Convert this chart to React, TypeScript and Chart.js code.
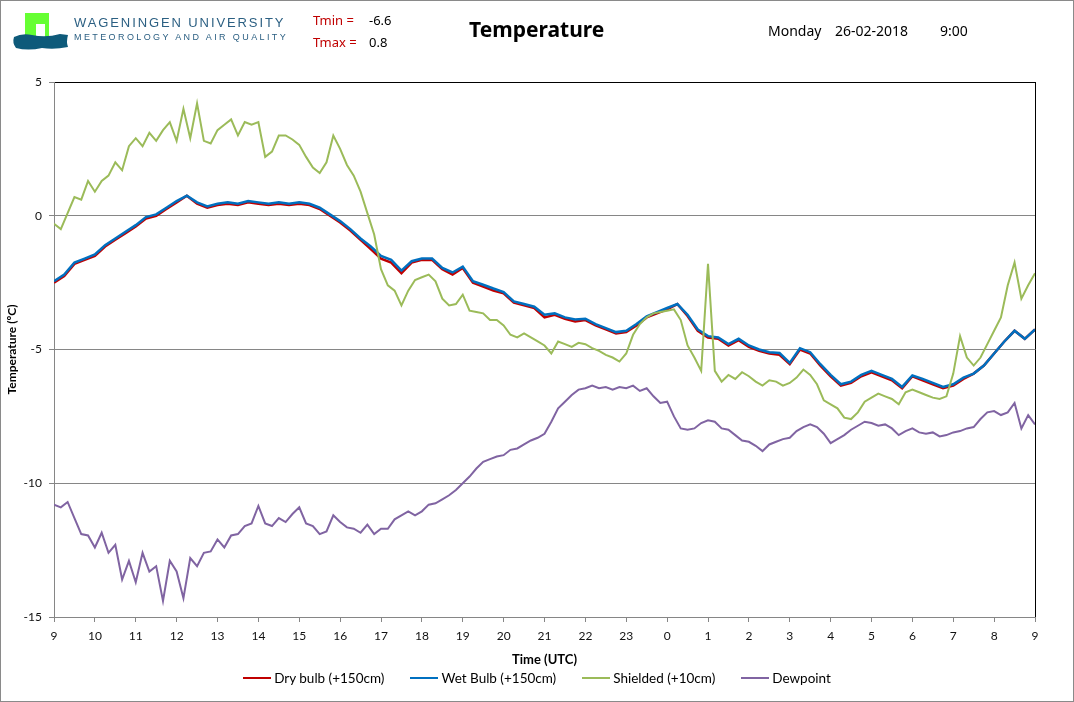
import { useEffect, useRef } from "react";
import { Chart, registerables } from "chart.js";

Chart.register(...registerables);

// sample times, hours after 9:00 UTC
const HOURS_15MIN = Array.from({ length: 97 }, (_, i) => i / 4);
const HOURS_10MIN = Array.from({ length: 145 }, (_, i) => i / 6);
const START_HOUR = 9;

const Y_MIN = -15;
const Y_MAX = 5;
const Y_STEP = 5;

// 15 minute values
const dryBulb = [
  -2.5, -2.25, -1.8, -1.65, -1.5, -1.15, -0.9, -0.65,
  -0.4, -0.1, 0.0, 0.25, 0.5, 0.75, 0.45, 0.3,
  0.4, 0.45, 0.4, 0.5, 0.45, 0.4, 0.45, 0.4,
  0.45, 0.4, 0.25, 0.0, -0.25, -0.55, -0.9, -1.25,
  -1.6, -1.75, -2.15, -1.75, -1.65, -1.65, -2.0, -2.2,
  -1.95, -2.5, -2.65, -2.8, -2.9, -3.25, -3.35, -3.45,
  -3.8, -3.7, -3.85, -3.95, -3.9, -4.1, -4.25, -4.4,
  -4.35, -4.1, -3.8, -3.65, -3.5, -3.3, -3.75, -4.3,
  -4.55, -4.6, -4.85, -4.65, -4.9, -5.05, -5.15, -5.2,
  -5.55, -5.0, -5.15, -5.6, -6.0, -6.35, -6.25, -6.0,
  -5.85, -6.0, -6.15, -6.45, -6.0, -6.15, -6.3, -6.45,
  -6.35, -6.1, -5.9, -5.6, -5.15, -4.7, -4.3, -4.6,
  -4.25,
];

const wetBulb = [
  -2.45, -2.2, -1.75, -1.6, -1.45, -1.1, -0.85, -0.6,
  -0.35, -0.05, 0.05, 0.3, 0.55, 0.75, 0.5, 0.35,
  0.45, 0.5, 0.45, 0.55, 0.5, 0.45, 0.5, 0.45,
  0.5, 0.45, 0.3, 0.05, -0.2, -0.5, -0.85, -1.15,
  -1.5, -1.65, -2.05, -1.7, -1.6, -1.6, -1.95, -2.12,
  -1.9, -2.45, -2.58, -2.72, -2.85, -3.2, -3.3, -3.4,
  -3.7, -3.65, -3.8, -3.88, -3.85, -4.05, -4.2, -4.35,
  -4.3, -4.05, -3.76, -3.6, -3.45, -3.3, -3.7, -4.25,
  -4.5, -4.55, -4.8, -4.6, -4.85, -5.0, -5.1, -5.13,
  -5.5, -4.95, -5.1, -5.55, -5.95, -6.3, -6.2, -5.95,
  -5.8, -5.95, -6.1, -6.4, -5.97, -6.1, -6.25, -6.4,
  -6.3, -6.05, -5.9, -5.6, -5.15, -4.7, -4.3, -4.6,
  -4.25,
];

// 10 minute values
const shielded = [
  -0.3, -0.5, 0.1, 0.7, 0.6, 1.3, 0.9, 1.3, 1.5, 2.0,
  1.7, 2.6, 2.9, 2.6, 3.1, 2.8, 3.2, 3.5, 2.8, 4.0,
  2.9, 4.2, 2.8, 2.7, 3.2, 3.4, 3.6, 3.0, 3.5, 3.4,
  3.5, 2.2, 2.4, 3.0, 3.0, 2.85, 2.65, 2.2, 1.8, 1.6,
  2.0, 3.0, 2.5, 1.9, 1.5, 0.9, 0.1, -0.7, -2.0, -2.6,
  -2.8, -3.35, -2.8, -2.4, -2.3, -2.2, -2.45, -3.1, -3.35, -3.3,
  -2.95, -3.55, -3.6, -3.65, -3.9, -3.9, -4.1, -4.45, -4.55, -4.4,
  -4.55, -4.7, -4.85, -5.15, -4.7, -4.8, -4.9, -4.75, -4.8, -4.95,
  -5.05, -5.2, -5.3, -5.45, -5.15, -4.45, -4.05, -3.8, -3.65, -3.6,
  -3.55, -3.5, -3.9, -4.85, -5.3, -5.8, -1.8, -5.8, -6.2, -5.95,
  -6.1, -5.85, -6.0, -6.2, -6.35, -6.15, -6.2, -6.35, -6.25, -6.05,
  -5.75, -5.95, -6.3, -6.9, -7.05, -7.2, -7.55, -7.6, -7.35, -6.95,
  -6.8, -6.65, -6.75, -6.85, -7.05, -6.6, -6.5, -6.6, -6.7, -6.8,
  -6.85, -6.75, -5.9, -4.5, -5.3, -5.6, -5.3, -4.8, -4.3, -3.8,
  -2.6, -1.75, -3.1, -2.6, -2.15,
];

const dewpoint = [
  -10.8, -10.9, -10.7, -11.3, -11.9, -11.95, -12.4, -11.85, -12.6, -12.3,
  -13.6, -12.9, -13.7, -12.6, -13.3, -13.1, -14.4, -12.9, -13.3, -14.3,
  -12.8, -13.1, -12.6, -12.55, -12.1, -12.4, -11.95, -11.9, -11.6, -11.5,
  -10.85, -11.5, -11.6, -11.3, -11.45, -11.15, -10.9, -11.5, -11.6, -11.9,
  -11.8, -11.2, -11.45, -11.65, -11.7, -11.85, -11.55, -11.9, -11.7, -11.7,
  -11.35, -11.2, -11.05, -11.2, -11.05, -10.8, -10.75, -10.6, -10.45, -10.25,
  -10.0, -9.75, -9.45, -9.2, -9.1, -9.0, -8.95, -8.75, -8.7, -8.55,
  -8.4, -8.3, -8.15, -7.7, -7.2, -6.95, -6.7, -6.5, -6.45, -6.35,
  -6.45, -6.4, -6.5, -6.4, -6.45, -6.35, -6.55, -6.45, -6.75, -7.0,
  -6.95, -7.5, -7.95, -8.0, -7.95, -7.75, -7.65, -7.7, -7.95, -8.0,
  -8.2, -8.4, -8.45, -8.6, -8.8, -8.55, -8.45, -8.35, -8.3, -8.05,
  -7.9, -7.8, -7.9, -8.15, -8.5, -8.35, -8.2, -8.0, -7.85, -7.7,
  -7.75, -7.85, -7.8, -7.95, -8.2, -8.05, -7.95, -8.1, -8.15, -8.1,
  -8.25, -8.2, -8.1, -8.05, -7.95, -7.9, -7.6, -7.35, -7.3, -7.45,
  -7.35, -7.0, -7.95, -7.45, -7.8,
];

const SERIES = [
  { label: "Dry bulb (+150cm)", color: "#C00000", width: 2.5, hours: HOURS_15MIN, values: dryBulb, order: 4 },
  { label: "Wet Bulb (+150cm)", color: "#0070C0", width: 2.5, hours: HOURS_15MIN, values: wetBulb, order: 3 },
  { label: "Shielded (+10cm)", color: "#9BBB59", width: 2, hours: HOURS_10MIN, values: shielded, order: 2 },
  { label: "Dewpoint", color: "#8064A2", width: 2, hours: HOURS_10MIN, values: dewpoint, order: 1 },
];

const tickFont = { family: "Lato, 'Open Sans', sans-serif", size: 12 };
const gridGrey = "#868686";

function TemperatureChart() {
  const canvasRef = useRef<HTMLCanvasElement>(null);

  useEffect(() => {
    if (!canvasRef.current) return;
    const chart = new Chart(canvasRef.current, {
      type: "line",
      data: {
        datasets: SERIES.map((s) => ({
          label: s.label,
          data: s.values.map((v, i) => ({ x: s.hours[i], y: v })),
          borderColor: s.color,
          backgroundColor: s.color,
          borderWidth: s.width,
          pointRadius: 0,
          tension: 0,
          order: s.order,
        })),
      },
      options: {
        animation: false,
        responsive: false,
        events: [],
        layout: { padding: { top: 82, right: 39, bottom: 33, left: 0 } },
        plugins: {
          legend: { display: false },
          tooltip: { enabled: false },
        },
        scales: {
          x: {
            type: "linear",
            min: 0,
            max: 24,
            afterFit: (scale: any) => {
              scale.height = 52;
            },
            ticks: {
              stepSize: 1,
              autoSkip: false,
              maxRotation: 0,
              padding: 7,
              color: "#111",
              font: tickFont,
              callback: (v: any) => String((START_HOUR + Number(v)) % 24),
            },
            grid: {
              color: (ctx: any) => (ctx.tick && ctx.tick.value === 24 ? "#000" : "rgba(0,0,0,0)"),
              tickColor: gridGrey,
              tickLength: 5,
            },
            border: { color: gridGrey },
            title: {
              display: true,
              text: "Time (UTC)",
              color: "#000",
              font: { family: "Lato, sans-serif", size: 13, weight: "bold" },
              padding: { top: 0, bottom: 1 },
            },
          },
          y: {
            min: Y_MIN,
            max: Y_MAX,
            afterFit: (scale: any) => {
              scale.width = 54;
            },
            ticks: {
              stepSize: Y_STEP,
              padding: 7,
              color: "#111",
              font: tickFont,
            },
            grid: {
              color: (ctx: any) => (ctx.tick && ctx.tick.value === Y_MAX ? "#000" : gridGrey),
              tickColor: gridGrey,
              tickLength: 5,
            },
            border: { color: gridGrey },
            title: {
              display: true,
              text: "Temperature (ºC)",
              color: "#000",
              font: { family: "Lato, sans-serif", size: 12, weight: "bold" },
              padding: { top: 5, bottom: 0 },
            },
          },
        },
      },
    });
    return () => chart.destroy();
  }, []);

  return <canvas ref={canvasRef} width={1074} height={702} style={{ display: "block" }} />;
}

function Logo() {
  return (
    <svg width={58} height={40} style={{ position: "absolute", left: 12, top: 12 }}>
      <rect x={13} y={1} width={24} height={28} fill="#66FF33" />
      <rect x={24} y={12} width={9} height={17} fill="#fff" />
      <path
        d="M2 25 Q 10 21 20 23 Q 34 26 48 22 L 56 23 Q 54 30 56 35 Q 42 38 30 36 Q 16 39 4 36 Q 0 31 2 25 Z"
        fill="#0E5A7A"
      />
    </svg>
  );
}

const txt = (left: number, top: number, extra: any = {}) => ({
  position: "absolute" as const,
  left,
  top,
  whiteSpace: "nowrap" as const,
  fontFamily: "'Noto Sans', sans-serif",
  fontSize: 13,
  lineHeight: "18px",
  color: "#000",
  ...extra,
});

export default function App() {
  return (
    <div
      style={{
        position: "absolute",
        left: 0,
        top: 0,
        width: 1074,
        height: 702,
        background: "#fff",
        overflow: "hidden",
      }}
    >
      <TemperatureChart />
      <Logo />
      <div style={txt(74, 14, { fontFamily: "'Liberation Sans', sans-serif", fontSize: 13, letterSpacing: "1.9px", color: "#2B5F82" })}>
        WAGENINGEN UNIVERSITY
      </div>
      <div style={txt(74, 28, { fontFamily: "'Liberation Sans', sans-serif", fontSize: 9, letterSpacing: "2.4px", color: "#2B5F82" })}>
        METEOROLOGY AND AIR QUALITY
      </div>
      <div style={txt(313, 11, { color: "#C00000" })}>Tmin =</div>
      <div style={txt(369, 11)}>-6.6</div>
      <div style={txt(313, 33, { color: "#C00000" })}>Tmax =</div>
      <div style={txt(369, 33)}>0.8</div>
      <div style={txt(469, 14, { fontSize: 21, fontWeight: "bold", lineHeight: "30px" })}>Temperature</div>
      <div style={txt(768, 21, { fontSize: 14, lineHeight: "20px" })}>Monday</div>
      <div style={txt(835, 21, { fontSize: 14, lineHeight: "20px" })}>26-02-2018</div>
      <div style={txt(940, 21, { fontSize: 14, lineHeight: "20px" })}>9:00</div>
      <div
        style={{
          position: "absolute",
          left: 0,
          top: 670,
          width: 1074,
          display: "flex",
          justifyContent: "center",
          fontFamily: "Lato, sans-serif",
          fontSize: 13.5,
          lineHeight: "16px",
          color: "#000",
        }}
      >
        {SERIES.map((s, i) => (
          <div key={s.label} style={{ display: "flex", alignItems: "center", marginRight: i < SERIES.length - 1 ? 26 : 0 }}>
            <span style={{ display: "inline-block", width: 28, height: 2.5, background: s.color, marginRight: 3 }} />
            <span>{s.label}</span>
          </div>
        ))}
      </div>
      <div
        style={{
          position: "absolute",
          left: 0,
          top: 0,
          width: 1074,
          height: 702,
          boxSizing: "border-box",
          border: "1px solid #8a8a8a",
          pointerEvents: "none",
        }}
      />
    </div>
  );
}
